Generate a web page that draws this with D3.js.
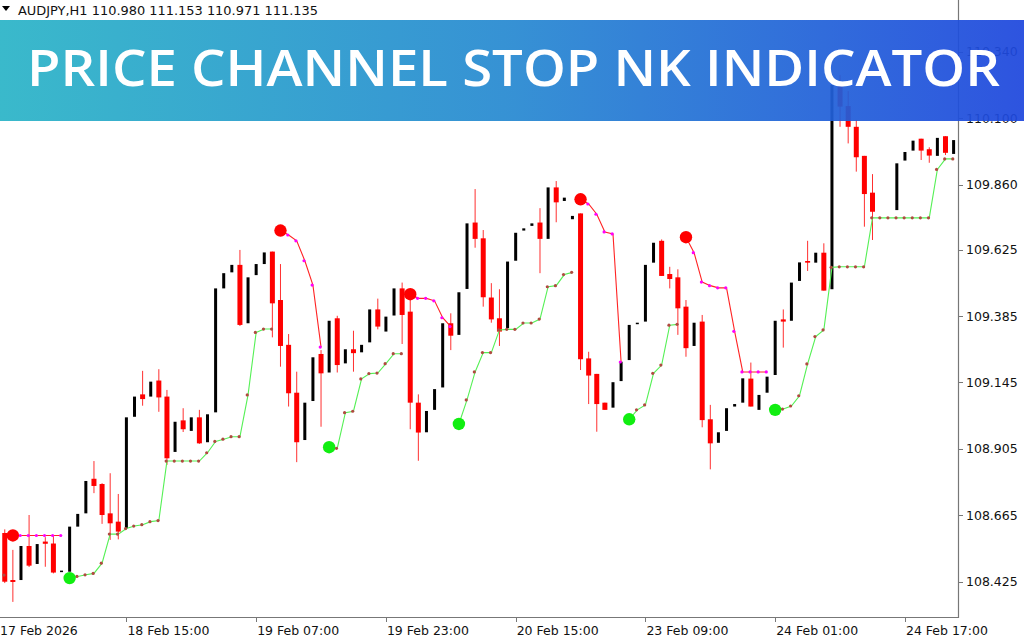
<!DOCTYPE html>
<html><head><meta charset="utf-8">
<script src="https://cdn.jsdelivr.net/npm/d3@7"></script>
<style>html,body{margin:0;padding:0;background:#fff;overflow:hidden}</style>
</head><body><svg id="c" width="1024" height="640"></svg>
<script>
// ---------- DATA (AUDJPY H1) ----------
const opens = [108.601,108.431,108.431,108.554,108.489,108.570,108.563,108.460,108.461,108.624,
108.672,108.797,108.778,108.672,108.642,108.618,109.021,109.102,109.094,109.152,
109.094,108.894,109.008,108.970,109.019,108.929,109.037,109.485,109.543,109.570,
109.359,109.533,109.573,109.618,109.443,109.281,109.108,108.937,109.078,109.248,
109.181,109.377,109.214,109.265,109.254,109.290,109.409,109.329,109.387,109.485,
109.401,109.072,108.965,109.046,109.127,109.359,109.317,109.483,109.723,109.666,
109.452,109.377,109.341,109.585,109.694,109.711,109.723,109.664,109.850,109.801,
109.735,109.756,109.232,109.176,109.072,109.054,109.150,109.226,109.356,109.365,
109.578,109.657,109.537,109.525,109.419,109.277,109.365,109.012,108.927,108.970,
109.058,109.072,109.159,109.046,109.108,109.172,109.373,109.368,109.512,109.584,
109.578,109.614,109.482,110.220,110.144,110.069,109.964,109.831,109.765,109.765,
109.768,109.947,109.983,110.026,109.988,109.964,110.035,109.971];
const highs = [108.614,108.540,108.554,108.666,108.561,108.586,108.594,108.465,108.624,108.670,
108.789,108.861,108.781,108.817,108.742,109.019,109.094,109.187,109.148,109.193,
109.118,109.003,109.052,109.019,109.046,109.030,109.485,109.540,109.570,109.624,
109.525,109.573,109.615,109.618,109.573,109.320,109.184,109.072,109.236,109.262,
109.368,109.386,109.265,109.332,109.281,109.409,109.448,109.383,109.485,109.506,
109.443,109.102,109.042,109.121,109.359,109.395,109.471,109.720,109.844,109.696,
109.504,109.482,109.582,109.686,109.702,109.720,109.775,109.850,109.873,109.813,
109.747,109.756,109.256,109.176,109.072,109.146,109.220,109.353,109.361,109.570,
109.650,109.662,109.563,109.554,109.443,109.361,109.389,109.064,108.965,109.052,
109.067,109.160,109.217,109.100,109.166,109.368,109.409,109.506,109.579,109.657,
109.614,109.648,110.220,110.256,110.198,110.094,109.964,109.898,109.765,109.765,
109.937,109.978,110.019,110.026,109.995,110.029,110.035,110.021];
const lows = [108.420,108.352,108.431,108.478,108.489,108.479,108.455,108.460,108.461,108.624,
108.672,108.745,108.634,108.576,108.578,108.618,109.021,109.061,109.094,109.039,
108.847,108.894,108.966,108.970,108.923,108.929,109.037,109.485,109.543,109.349,
109.359,109.533,109.573,109.308,109.202,109.058,108.857,108.937,109.078,108.985,
109.181,109.181,109.214,109.184,109.254,109.290,109.337,109.329,109.387,109.284,
108.976,108.862,108.965,109.046,109.127,109.262,109.317,109.483,109.632,109.419,
109.361,109.277,109.341,109.585,109.694,109.711,109.540,109.664,109.724,109.801,
109.735,109.190,109.067,108.967,109.046,109.054,109.150,109.226,109.356,109.365,
109.578,109.530,109.485,109.317,109.238,109.277,108.983,108.831,108.927,108.970,
109.058,109.072,109.058,109.046,109.108,109.172,109.271,109.368,109.512,109.548,
109.578,109.477,109.482,110.069,110.009,109.907,109.708,109.660,109.765,109.765,
109.768,109.947,109.983,109.949,109.939,109.964,109.967,109.971];
const closes = [108.425,108.424,108.554,108.483,108.561,108.562,108.458,108.465,108.624,108.670,
108.789,108.771,108.666,108.636,108.606,109.019,109.094,109.085,109.148,109.091,
108.871,109.003,108.976,109.019,108.925,109.030,109.485,109.540,109.570,109.353,
109.525,109.573,109.615,109.431,109.277,109.106,108.929,109.072,109.236,109.178,
109.368,109.208,109.265,109.251,109.281,109.409,109.347,109.383,109.485,109.389,
109.072,108.964,109.042,109.121,109.359,109.314,109.471,109.720,109.664,109.453,
109.373,109.329,109.582,109.686,109.702,109.720,109.664,109.850,109.796,109.813,
109.747,109.229,109.170,109.067,109.046,109.146,109.220,109.353,109.361,109.570,
109.650,109.530,109.519,109.413,109.269,109.361,109.009,108.925,108.965,109.052,
109.067,109.160,109.058,109.100,109.166,109.368,109.365,109.506,109.579,109.578,
109.614,109.477,110.220,110.142,110.069,109.959,109.826,109.762,109.765,109.765,
109.937,109.978,110.019,109.983,109.965,110.029,109.975,110.021];
// Price Channel Stop: upper (down-trend) stop and lower (up-trend) stop
const upperStop = [null,108.592,108.592,108.592,108.592,108.592,108.592,108.592,null,null,
null,null,null,null,null,null,null,null,null,null,
null,null,null,null,null,null,null,null,null,null,
null,null,null,null,109.694,109.678,109.657,109.585,109.497,109.273,
null,null,null,null,null,null,null,null,null,null,
109.464,109.449,109.449,109.440,109.379,109.347,null,null,null,null,
null,null,null,null,null,null,null,null,null,null,
null,109.807,109.790,109.753,109.689,109.682,109.219,null,null,null,
null,null,null,null,109.670,109.614,109.508,109.495,109.487,109.487,
109.330,109.183,109.183,109.183,109.183,null,null,null,null,null,
null,null,null,null,null,null,null,null,null,null,
null,null,null,null,null,null,null,null];
const lowerStop = [108.449,null,null,null,null,null,null,null,108.438,108.444,
108.450,108.455,108.492,108.597,108.597,108.617,108.626,108.631,108.642,108.646,
108.861,108.861,108.861,108.861,108.861,108.891,108.932,108.940,108.949,108.949,
109.100,109.326,109.338,109.338,null,null,null,null,null,null,
108.911,108.907,109.036,109.041,109.158,109.177,109.179,109.213,109.249,109.249,
null,null,null,null,null,null,108.995,109.082,109.183,109.253,
109.253,109.335,109.337,109.337,109.360,109.360,109.374,109.491,109.495,109.535,
109.543,null,null,null,null,null,null,109.012,109.046,109.064,
109.178,109.208,109.352,109.355,null,null,null,null,null,null,
null,null,null,null,null,109.046,109.049,109.060,109.097,109.212,
109.311,109.335,109.561,109.563,109.563,109.563,109.563,109.740,109.740,109.740,
109.740,109.740,109.740,109.740,109.740,109.915,109.953,109.953];
const xTickBars = [-1,15,31,47,63,79,95,111];
const xTickLabels = ["17 Feb 2026","18 Feb 15:00","19 Feb 07:00","19 Feb 23:00","20 Feb 15:00","23 Feb 09:00","24 Feb 01:00","24 Feb 17:00"];
const yTickValues = [108.425,108.665,108.905,109.145,109.385,109.625,109.860,110.100,110.340];
const symbolInfo = "AUDJPY,H1  110.980 111.153 110.971 111.135";
const titleText = "PRICE CHANNEL STOP NK INDICATOR";

// ---------- DRAW ----------
const n = closes.length;
const plotRight = 959, plotBottom = 617;
const x = d3.scaleLinear().domain([0, n-1]).range([4.75, 953.6]);
const y = d3.scaleLinear().domain([108.2974, 110.5273]).range([plotBottom, 0]);
const svg = d3.select('#c');
const defs = svg.append('defs');
defs.append('clipPath').attr('id','pc').append('rect')
  .attr('x',0).attr('y',0).attr('width',plotRight).attr('height',plotBottom);
const grad = defs.append('linearGradient').attr('id','bg').attr('x1','0%').attr('x2','100%');
grad.append('stop').attr('offset','0%').attr('stop-color','#2bb4c7');
grad.append('stop').attr('offset','50%').attr('stop-color','#2789d1');
grad.append('stop').attr('offset','100%').attr('stop-color','#1e47dd');

const g = svg.append('g').attr('clip-path','url(#pc)');
const bars = d3.range(n).map(i=>({i,o:opens[i],h:highs[i],l:lows[i],c:closes[i]}));
const bears = bars.filter(d=>d.c<d.o), bulls = bars.filter(d=>d.c>d.o);

g.selectAll('line.wick').data(bears).join('line').attr('class','wick')
  .attr('x1',d=>x(d.i)).attr('x2',d=>x(d.i))
  .attr('y1',d=>y(d.h)).attr('y2',d=>y(d.l))
  .attr('stroke','#ff3030').attr('stroke-width',1);
g.selectAll('rect.bear').data(bears).join('rect').attr('class','bear')
  .attr('x',d=>x(d.i)-2.5).attr('width',5)
  .attr('y',d=>y(d.o)).attr('height',d=>Math.max(1.5,y(d.c)-y(d.o)))
  .attr('fill','#ff0000');
g.selectAll('rect.bull').data(bulls).join('rect').attr('class','bull')
  .attr('x',d=>x(d.i)-1.5).attr('width',3)
  .attr('y',d=>y(d.c)).attr('height',d=>Math.max(1.5,y(d.o)-y(d.c)))
  .attr('fill','#000');

function drawStop(arr, lineColor, dotColor, bigColor){
  const pts = arr.map((v,i)=>({i,v}));
  const line = d3.line().defined(d=>d.v!=null).x(d=>x(d.i)).y(d=>y(d.v));
  g.append('path').datum(pts).attr('d',line).attr('fill','none')
    .attr('stroke',lineColor).attr('stroke-width',1.1);
  const starts = pts.filter(d=>d.v!=null && d.i>0 && arr[d.i-1]==null);
  const small = pts.filter(d=>d.v!=null && !(d.i>0 && arr[d.i-1]==null));
  g.selectAll(null).data(small).join('circle')
    .attr('cx',d=>x(d.i)-0.8).attr('cy',d=>y(d.v)).attr('r',1.6).attr('fill',dotColor);
  g.selectAll(null).data(starts).join('circle')
    .attr('cx',d=>x(d.i)).attr('cy',d=>y(d.v)).attr('r',6.2).attr('fill',bigColor);
}
drawStop(lowerStop,'#55f055','#b04a40','#11ee11');
drawStop(upperStop,'#ff2424','#ff00ff','#ff0000');

// axes
const axisColor = '#777';
svg.append('line').attr('x1',0).attr('x2',plotRight).attr('y1',plotBottom+0.5).attr('y2',plotBottom+0.5)
  .attr('stroke',axisColor).attr('stroke-width',1.2);
svg.append('line').attr('x1',plotRight-0.5).attr('x2',plotRight-0.5).attr('y1',0).attr('y2',plotBottom+1)
  .attr('stroke',axisColor).attr('stroke-width',1.2);
const yt = svg.append('g');
yt.selectAll('line').data(yTickValues).join('line')
  .attr('x1',plotRight).attr('x2',plotRight+4).attr('y1',d=>Math.round(y(d))+0.5).attr('y2',d=>Math.round(y(d))+0.5)
  .attr('stroke',axisColor);
yt.selectAll('text').data(yTickValues).join('text')
  .attr('x',plotRight+7).attr('y',d=>y(d)+4.5)
  .attr('font-family','DejaVu Sans').attr('font-size',12.5).attr('fill','#111')
  .text(d=>d3.format('.3f')(d));
const xt = svg.append('g');
xt.selectAll('line').data(xTickBars).join('line')
  .attr('x1',d=>Math.round(x(d))+0.5).attr('x2',d=>Math.round(x(d))+0.5).attr('y1',plotBottom).attr('y2',plotBottom+5)
  .attr('stroke',axisColor);
xt.selectAll('text').data(xTickBars).join('text')
  .attr('x',d=>Math.max(0, x(d)+1)).attr('y',635)
  .attr('font-family','DejaVu Sans').attr('font-size',12.5).attr('fill','#111')
  .text((d,k)=>xTickLabels[k]);

// banner
svg.append('rect').attr('x',0).attr('y',20).attr('width',1024).attr('height',101)
  .attr('fill','url(#bg)').attr('opacity',0.93);
svg.append('text').attr('x',27).attr('y',86)
  .attr('font-family','Open Sans').attr('font-weight',600).attr('font-size',50)
  .attr('fill','#fff').attr('textLength',973).attr('lengthAdjust','spacingAndGlyphs')
  .text(titleText);

// header
svg.append('path').attr('d','M2,6 L10,6 L6,11 Z').attr('fill','#000');
svg.append('text').attr('x',18).attr('y',15)
  .attr('font-family','DejaVu Sans').attr('font-size',13).attr('fill','#111')
  .attr('textLength',300).attr('lengthAdjust','spacingAndGlyphs')
  .text(symbolInfo);
</script></body></html>
